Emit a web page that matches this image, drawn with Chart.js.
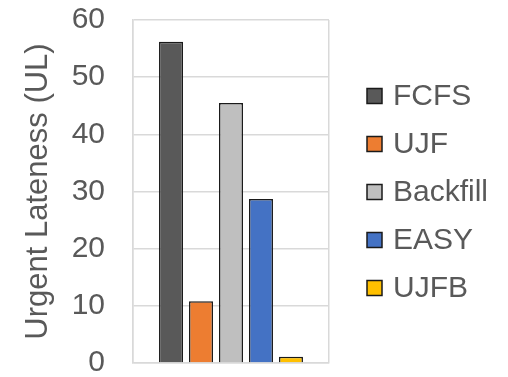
<!DOCTYPE html>
<html>
<head>
<meta charset="utf-8">
<script src="https://cdn.jsdelivr.net/npm/chart.js@4/dist/chart.umd.min.js"></script>
<style>
  html, body { margin: 0; padding: 0; background: #ffffff; }
  #wrap { width: 508px; height: 377px; }
</style>
</head>
<body>
<div id="wrap"><canvas id="chart" width="508" height="377"></canvas></div>
<script>
// Scheduling policies and their urgent lateness
const policies = ['FCFS', 'UJF', 'Backfill', 'EASY', 'UJFB'];
const latenessValues = [56.2, 10.8, 45.5, 28.7, 1.1];
const policyColors = ['#595959', '#ED7D31', '#BFBFBF', '#4472C4', '#FFC000'];
const yTicks = [0, 10, 20, 30, 40, 50, 60];

const textColor = '#595959';
const gridColor = '#d9d9d9';
const edgeColor = '#1a1a1a';
const fontFamily = '"Liberation Sans", Arial, sans-serif';
const fontSize = 30;

const datasets = policies.map((name, i) => ({
  label: name,
  data: [latenessValues[i]],
  backgroundColor: policyColors[i],
  borderColor: edgeColor,
  borderWidth: 1.5,
  barPercentage: 0.8,
  categoryPercentage: 0.765
}));

// Legend column to the right of the plot, one entry per dataset
const sideLegend = {
  id: 'sideLegend',
  afterDraw(chart) {
    const ctx = chart.ctx;
    const area = chart.chartArea;
    const boxSize = 15;
    const boxX = area.right + 38;
    const textX = boxX + boxSize + 11;
    const rowGap = 48;
    const firstY = 96;
    ctx.save();
    ctx.font = fontSize + 'px ' + fontFamily;
    ctx.textBaseline = 'middle';
    ctx.textAlign = 'left';
    chart.data.datasets.forEach((ds, i) => {
      const cy = firstY + i * rowGap;
      ctx.fillStyle = ds.backgroundColor;
      ctx.fillRect(boxX, cy - boxSize / 2, boxSize, boxSize);
      ctx.lineWidth = 1.5;
      ctx.strokeStyle = edgeColor;
      ctx.strokeRect(boxX, cy - boxSize / 2, boxSize, boxSize);
      ctx.fillStyle = textColor;
      ctx.fillText(ds.label, textX, cy + 1);
    });
    ctx.restore();
  }
};

new Chart(document.getElementById('chart'), {
  type: 'bar',
  data: { labels: [''], datasets },
  plugins: [sideLegend],
  options: {
    responsive: false,
    animation: false,
    layout: { padding: { top: 20, right: 179, bottom: 14, left: 0 } },
    plugins: {
      tooltip: { enabled: false },
      legend: { display: false }
    },
    scales: {
      x: {
        grid: { display: true, color: gridColor, lineWidth: 1.5, drawTicks: false },
        border: { display: true, color: gridColor, width: 1.5 },
        ticks: { display: false },
        afterFit: (scale) => { scale.height = 0; scale.paddingLeft = 0; scale.paddingRight = 0; }
      },
      y: {
        min: yTicks[0],
        max: yTicks[yTicks.length - 1],
        afterBuildTicks: (scale) => { scale.ticks = yTicks.map(v => ({ value: v })); },
        afterFit: (scale) => {
          scale.width = 133;
          scale.paddingTop = 0;
          scale.paddingBottom = 0;
        },
        grid: { color: gridColor, lineWidth: 1.5, drawTicks: false },
        border: { display: true, color: gridColor, width: 1.5 },
        ticks: {
          padding: 28,
          color: textColor,
          font: { family: fontFamily, size: fontSize }
        },
        title: {
          display: true,
          text: 'Urgent Lateness (UL)',
          color: textColor,
          padding: { top: 20, bottom: 0 },
          font: { family: fontFamily, size: 31 }
        }
      }
    }
  }
});
</script>
</body>
</html>
